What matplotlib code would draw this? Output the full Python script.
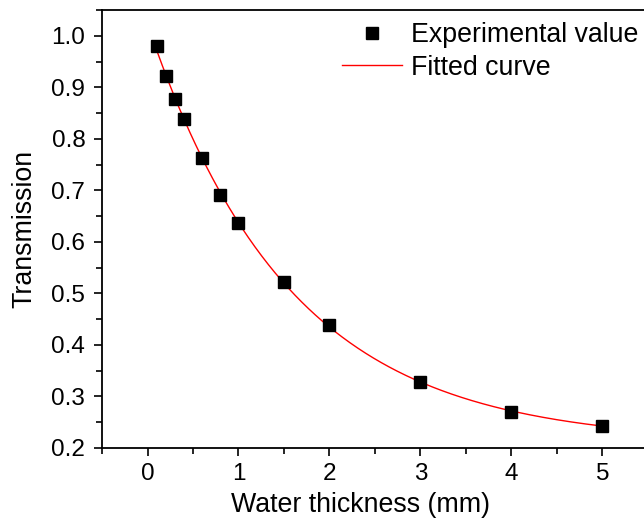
import matplotlib
matplotlib.use("Agg")
import matplotlib.pyplot as plt
import numpy as np
from matplotlib.ticker import FormatStrFormatter, MultipleLocator

plt.rcParams["font.family"] = ["Liberation Sans", "DejaVu Sans"]

# Données
epaisseur_mm = np.array([0.1, 0.2, 0.3, 0.4, 0.6, 0.8, 1.0, 1.5, 2.0, 3.0, 4.0, 5.0])
transmission = np.array([0.980, 0.922, 0.877, 0.838, 0.762, 0.691, 0.637,
                         0.523, 0.439, 0.328, 0.269, 0.243])

# Ajustement exponentiel y = y0 + A exp(-x/t) sur les points
meilleur = None
for t in np.linspace(0.5, 4.0, 701):
    M = np.column_stack([np.ones_like(epaisseur_mm), np.exp(-epaisseur_mm / t)])
    coef, *_ = np.linalg.lstsq(M, transmission, rcond=None)
    err = np.sum((M @ coef - transmission) ** 2)
    if meilleur is None or err < meilleur[0]:
        meilleur = (err, t, coef)
_, tau, (y0, amp) = meilleur
x_fit = np.linspace(epaisseur_mm.min(), epaisseur_mm.max(), 400)
y_fit = y0 + amp * np.exp(-x_fit / tau)

fig = plt.figure(figsize=(6.44, 5.24), dpi=100)
ax = fig.add_axes([102 / 644, 76 / 524, 546 / 644, 438 / 524])

ax.plot(epaisseur_mm, transmission, "s", color="black", markersize=9,
        label="Experimental value", zorder=3)
ax.plot(x_fit, y_fit, "-", color="red", linewidth=1.0, label="Fitted curve", zorder=2)

ax.set_xlim(-0.5, 5.5)
ax.set_ylim(0.2, 1.05)
ax.xaxis.set_major_locator(MultipleLocator(1))
ax.xaxis.set_minor_locator(MultipleLocator(0.5))
ax.yaxis.set_major_locator(MultipleLocator(0.1))
ax.yaxis.set_minor_locator(MultipleLocator(0.05))
ax.yaxis.set_major_formatter(FormatStrFormatter("%.1f"))

for s in ax.spines.values():
    s.set_linewidth(1.3)
ax.spines["right"].set_visible(False)
ax.tick_params(which="both", direction="out", top=False, right=False,
               width=1.2, labelsize=17.5)
ax.tick_params(axis="y", pad=6)
ax.tick_params(axis="x", pad=5)
ax.tick_params(which="major", length=6)
ax.tick_params(which="minor", length=4.5)

ax.set_xlabel("Water thickness (mm)", fontsize=19.3)
ax.xaxis.set_label_coords((361 - 102) / 546, -(505 - 448) / 438, transform=ax.transAxes)
ax.xaxis.label.set_va("center")
ax.set_ylabel("Transmission", fontsize=19.3)
ax.yaxis.set_label_coords(-(102 - 24) / 546, 0.5, transform=ax.transAxes)
ax.yaxis.label.set_va("center")

ax.legend(loc="upper left", bbox_to_anchor=(342 / 644, 1 - 22 / 524),
          bbox_transform=fig.transFigure, frameon=False, fontsize=19.3,
          handlelength=2.24, handletextpad=0.34, labelspacing=0.25,
          borderpad=0, borderaxespad=0)

fig.savefig("out.png", dpi=100)
